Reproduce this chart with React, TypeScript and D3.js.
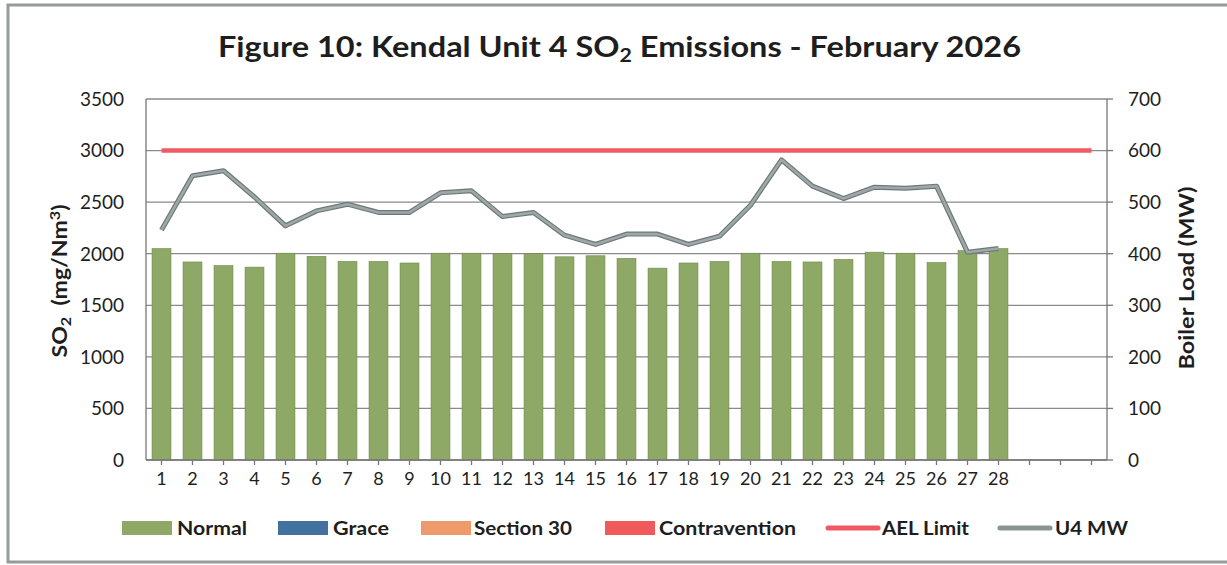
import React from "react";
import * as d3 from "d3";

const days = ["1","2","3","4","5","6","7","8","9","10","11","12","13","14","15","16","17","18","19","20","21","22","23","24","25","26","27","28","","",""];
const so2Normal = [2050,1920,1885,1870,2005,1975,1925,1925,1910,2005,2005,2000,2000,1970,1980,1955,1860,1910,1925,2005,1925,1920,1945,2015,2005,1915,2030,2050];
const u4MW = [446,551,561,510,454,483,496,480,480,518,522,472,480,436,418,438,438,418,434,494,582,531,507,529,527,531,403,410];
const AEL_LIMIT = 3000;
const leftTicks = [0,500,1000,1500,2000,2500,3000,3500];
const rightTicks = [0,100,200,300,400,500,600,700];
const legendItems = [
  { label: "Normal", kind: "rect", color: "#8ea866", sx: 122, tx: 177, tl: 70 },
  { label: "Grace", kind: "rect", color: "#41719c", sx: 278, tx: 333, tl: 56 },
  { label: "Section 30", kind: "rect", color: "#ee9a6a", sx: 421, tx: 474, tl: 98 },
  { label: "Contravention", kind: "rect", color: "#f05a5a", sx: 605, tx: 659, tl: 137 },
  { label: "AEL Limit", kind: "line", color: "#f05a62", sx: 828, tx: 882, tl: 87 },
  { label: "U4 MW", kind: "line", color: "#8a9494", sx: 1000, tx: 1055, tl: 73 },
];

const FONT = "Lato, 'Open Sans', sans-serif";

export default function App() {
  const W = 1227, H = 565;
  const left = 146, right = 1107, top = 99, bottom = 460;
  const x = d3.scaleBand<string>().domain(days.map((d, i) => String(i))).range([left, right]).paddingInner(0.39).paddingOuter(0.195);
  const cx = (i: number) => (x(String(i)) as number) + x.bandwidth() / 2;
  const yL = d3.scaleLinear().domain([0, 3500]).range([bottom, top]);
  const yR = d3.scaleLinear().domain([0, 700]).range([bottom, top]);
  const line = d3.line<number>().x((_, i) => cx(i)).y(d => yR(d));
  const aelLine = d3.line<string>().x((_, i) => cx(i)).y(() => yL(AEL_LIMIT));
  const textColor = "#1e1e1e";

  return (
    <svg width={W} height={H} style={{ position: "absolute", left: 0, top: 0, background: "#fff" }}>
      <rect x={0} y={0} width={W} height={H} fill="#fff" />
      <rect x={8} y={5} width={W + 20} height={557} fill="none" stroke="#959b9b" strokeWidth={3} />
      <text x={218} y={57} fontFamily={FONT} fontWeight={700} fontSize={29} fill={textColor} textLength={803} lengthAdjust="spacingAndGlyphs">
        Figure 10: Kendal Unit 4 SO<tspan fontSize={19} dy={5}>2</tspan><tspan dy={-5}> Emissions - February 2026</tspan>
      </text>
      {leftTicks.map(t => (
        <line key={"g" + t} x1={left} x2={right} y1={yL(t)} y2={yL(t)} stroke="#8a8a8a" strokeWidth={1.3} />
      ))}
      {so2Normal.map((v, i) => (
        <rect key={"b" + i} x={x(String(i))} y={yL(v)} width={x.bandwidth()} height={bottom - yL(v)} fill="#8ea866" stroke="#6f8a4c" strokeWidth={0.6} />
      ))}
      <line x1={left} x2={left} y1={top} y2={bottom} stroke="#777" strokeWidth={1.3} />
      <line x1={right} x2={right} y1={top} y2={bottom} stroke="#777" strokeWidth={1.3} />
      <line x1={left} x2={right} y1={bottom} y2={bottom} stroke="#777" strokeWidth={1.3} />
      {days.map((d, i) => (
        <line key={"xt" + i} x1={cx(i)} x2={cx(i)} y1={bottom} y2={bottom + 5} stroke="#777" strokeWidth={1.3} />
      ))}
      {rightTicks.map(t => (
        <line key={"rt" + t} x1={right} x2={right + 6} y1={yR(t)} y2={yR(t)} stroke="#777" strokeWidth={1.3} />
      ))}
      <path d={aelLine(days) || ""} fill="none" stroke="#f05a62" strokeWidth={4.5} />
      <path d={line(u4MW) || ""} fill="none" stroke="#6f7878" strokeWidth={5} strokeLinejoin="round" />
      <path d={line(u4MW) || ""} fill="none" stroke="#9ea8a8" strokeWidth={2.6} strokeLinejoin="round" />
      {leftTicks.map(t => (
        <text key={"lt" + t} x={124} y={yL(t)} dy="0.36em" textAnchor="end" fontFamily={FONT} fontSize={19} fill={textColor}>{t}</text>
      ))}
      {rightTicks.map(t => (
        <text key={"rl" + t} x={1128} y={yR(t)} dy="0.36em" textAnchor="start" fontFamily={FONT} fontSize={19} fill={textColor}>{t}</text>
      ))}
      {days.map((d, i) => d ? (
        <text key={"xl" + i} x={cx(i)} y={485} textAnchor="middle" fontFamily={FONT} fontSize={18} fill={textColor}>{d}</text>
      ) : null)}
      <text transform="translate(67,281) rotate(-90)" textAnchor="middle" fontFamily={FONT} fontWeight={700} fontSize={20} fill={textColor} textLength={153} lengthAdjust="spacingAndGlyphs">
        SO<tspan fontSize={14} dy={4}>2</tspan><tspan dy={-4}>{"\u00a0 (mg/Nm"}</tspan><tspan fontSize={14} dy={-7}>3</tspan><tspan dy={7}>)</tspan>
      </text>
      <text transform="translate(1194,278) rotate(-90)" textAnchor="middle" fontFamily={FONT} fontWeight={700} fontSize={20} fill={textColor} textLength={183} lengthAdjust="spacingAndGlyphs">
        Boiler Load (MW)
      </text>
      {legendItems.map(it => (
        <g key={it.label}>
          {it.kind === "rect" ? (
            <rect x={it.sx} y={521} width={50} height={14} fill={it.color} />
          ) : (
            <line x1={it.sx} x2={it.sx + 50} y1={528} y2={528} stroke={it.color} strokeWidth={5} strokeLinecap="round" />
          )}
          <text x={it.tx} y={535} fontFamily={FONT} fontWeight={700} fontSize={18} fill={textColor} textLength={it.tl} lengthAdjust="spacingAndGlyphs">{it.label}</text>
        </g>
      ))}
    </svg>
  );
}
